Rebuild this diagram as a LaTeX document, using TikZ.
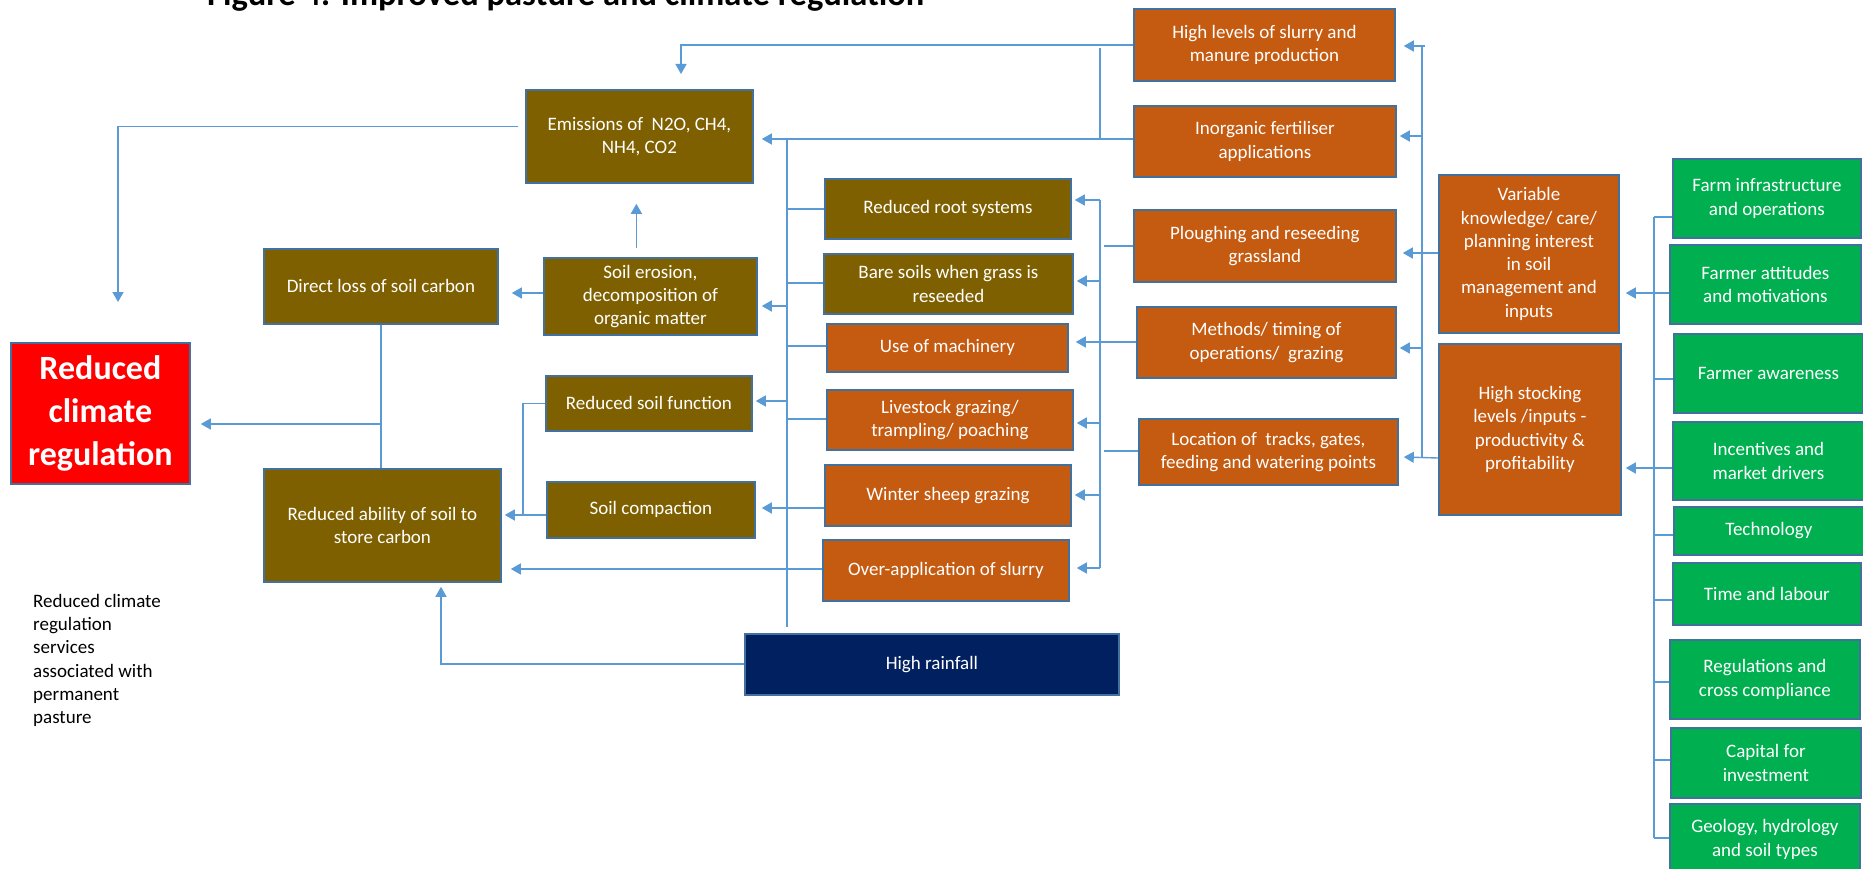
\documentclass[tikz,border=0pt]{standalone}
\usepackage{fontspec}
\setmainfont{Carlito}
\usetikzlibrary{arrows.meta,calc}
\definecolor{lnblue}{HTML}{5B9BD5}
\definecolor{bdblue}{HTML}{41719C}
\definecolor{cbrown}{HTML}{7F6000}
\definecolor{corange}{HTML}{C55A11}
\definecolor{cgreen}{HTML}{00B050}
\definecolor{cnavy}{HTML}{002060}
\definecolor{cred}{HTML}{FF0000}
\newcommand\mkbox[7]{%
  \node[#2, minimum width={(#5-#3)*1pt}, minimum height={(#6-#4)*1pt}, anchor=north west] (#1) at (#3,#4) {#7};}
\tikzset{
  bx/.style={draw=bdblue, line width=1.8pt, text=white, align=center, inner sep=2pt,
    font=\fontsize{19}{23.3}\selectfont},
  brownbox/.style={bx, fill=cbrown},
  orangebox/.style={bx, fill=corange},
  greenbox/.style={bx, fill=cgreen},
  navybox/.style={bx, fill=cnavy},
  redbox/.style={bx, fill=cred, font=\bfseries\fontsize{34}{43}\selectfont},
  ln/.style={draw=lnblue, line width=1.4pt},
  arr/.style={ln, -{Triangle[length=10pt,width=11pt]}},
}
\begin{document}
\begin{tikzpicture}[x=1pt,y=-1pt]
\fill[white] (0,0) rectangle (1863,869);
\useasboundingbox (0,0) rectangle (1863,869);

\node[anchor=base west, inner sep=0, font=\bfseries\fontsize{34.5}{40}\selectfont] (title) at (207,6) {Figure 4: Improved pasture and climate regulation};

% left column
\mkbox{emis}{brownbox}{525}{89}{752}{182}{Emissions of~~N2O, CH4,\\NH4, CO2}
\mkbox{direct}{brownbox}{263}{248}{497}{323}{Direct loss of soil carbon}
\mkbox{erosion}{brownbox}{543}{257}{756}{334}{Soil erosion,\\decomposition of\\organic matter}
\mkbox{red}{redbox}{10}{342}{189}{483}{Reduced\\climate\\regulation}
\mkbox{soilfn}{brownbox}{545}{375}{751}{430}{Reduced soil function}
\mkbox{ability}{brownbox}{263}{468}{500}{581}{Reduced ability of soil to\\store carbon}
\mkbox{compact}{brownbox}{546}{481}{754}{537}{Soil compaction}

% middle column
\mkbox{root}{brownbox}{824}{178}{1070}{238}{Reduced root systems}
\mkbox{bare}{brownbox}{823}{253}{1072}{313}{Bare soils when grass is\\reseeded}
\mkbox{mach}{orangebox}{826}{323}{1067}{371}{Use of machinery}
\mkbox{live}{orangebox}{826}{389}{1072}{449}{Livestock grazing/\\trampling/ poaching}
\mkbox{winter}{orangebox}{824}{464}{1070}{525}{Winter sheep grazing}
\mkbox{over}{orangebox}{822}{539}{1068}{600}{Over-application of slurry}
\mkbox{rain}{navybox}{744}{633}{1118}{694}{High rainfall}

% right orange column
\mkbox{hislurry}{orangebox}{1133}{8}{1394}{80}{High levels of slurry and\\manure production}
\mkbox{inorg}{orangebox}{1133}{105}{1395}{176}{Inorganic fertiliser\\applications}
\mkbox{plough}{orangebox}{1133}{209}{1395}{281}{Ploughing and reseeding\\grassland}
\mkbox{methods}{orangebox}{1136}{306}{1395}{377}{Methods/ timing of\\operations/~~grazing}
\mkbox{location}{orangebox}{1138}{418}{1397}{484}{Location of~~tracks, gates,\\feeding and watering points}
\mkbox{variable}{orangebox}{1438}{174}{1618}{332}{Variable\\knowledge/ care/\\planning interest\\in soil\\management and\\inputs}
\mkbox{stocking}{orangebox}{1438}{343}{1620}{514}{High stocking\\levels /inputs -\\productivity \&\\profitability}

% green column
\mkbox{g1}{greenbox}{1672}{158}{1860}{237}{Farm infrastructure\\and operations}
\mkbox{g2}{greenbox}{1669}{244}{1860}{323}{Farmer attitudes\\and motivations}
\mkbox{g3}{greenbox}{1673}{333}{1862}{412}{Farmer awareness}
\mkbox{g4}{greenbox}{1672}{421}{1863}{499}{Incentives and\\market drivers}
\mkbox{g5}{greenbox}{1673}{506}{1863}{554}{Technology}
\mkbox{g6}{greenbox}{1672}{562}{1860}{624}{Time and labour}
\mkbox{g7}{greenbox}{1669}{639}{1859}{718}{Regulations and\\cross compliance}
\mkbox{g8}{greenbox}{1670}{727}{1860}{797}{Capital for\\investment}
\mkbox{g9}{greenbox}{1669}{803}{1859}{874}{Geology, hydrology\\and soil types}

\node[anchor=north west, align=left, inner sep=0, font=\fontsize{19}{23.3}\selectfont] (note) at (33,594) {Reduced climate\\regulation\\services\\associated with\\permanent\\pasture};

% named free ends
\coordinate (eTop) at (681,74);
\coordinate (eLeft) at (118,302);
\coordinate (busT) at (787,139);
\coordinate (busB) at (787,627);
\coordinate (jT) at (1100,48);
\coordinate (jB) at (1100,139);
\coordinate (mT) at (1100,200);
\coordinate (mB) at (1100,568);
\coordinate (rT) at (1422,46);
\coordinate (rB) at (1422,458);
\coordinate (gT) at (1654,217);
\coordinate (gB) at (1654,838);

% left part connectors
\draw[arr] (hislurry.west) -| (eTop);
\draw[ln] (jT) -- (jB);
\draw[arr] (inorg.west |- 0,139) -- ($(emis.east |- 0,139)+(8,0)$);
\draw[arr] ($(emis.west)+(-7,-10)$) -| (eLeft);
\draw[arr] ($(emis.south |- erosion.north)+(-3,-9)$) -- ($(emis.south)+(-3,20)$);
\draw[arr] (erosion.west |- 0,293) -- ($(direct.east |- 0,293)+(13,0)$);
\draw[ln] (direct.south) -- (direct.south |- ability.north);
\draw[arr] (direct.south |- 0,424) -- ($(red.east |- 0,424)+(10,0)$);
\draw[ln] (soilfn.west) -| ($(ability.east |- 0,515)+(21,0)$);
\draw[arr] (compact.west |- 0,515) -- ($(ability.east |- 0,515)+(3,0)$);
\draw[ln] (busT) -- (busB);
\draw[arr] (busT |- 0,306) -- ($(erosion.east |- 0,306)+(4,0)$);
\draw[arr] (busT |- 0,401) -- ($(soilfn.east |- 0,401)+(3,0)$);
\draw[arr] (winter.west |- 0,508) -- ($(compact.east |- 0,508)+(6,0)$);
\draw[arr] (over.west |- 0,569) -- ($(ability.east |- 0,569)+(9,0)$);
\draw[ln] (root.west |- 0,209) -- (busT |- 0,209);
\draw[ln] (bare.west |- 0,283) -- (busT |- 0,283);
\draw[ln] (mach.west |- 0,346) -- (busT |- 0,346);
\draw[ln] (live.west |- 0,419) -- (busT |- 0,419);
\draw[arr] (rain.west |- 0,664) -| ($(ability.south -| 441,0)+(0,4)$);

% middle connectors
\draw[ln] (mT) -- (mB);
\draw[arr] (mT) -- ($(root.east |- mT)+(3,0)$);
\draw[arr] (mT |- 0,281) -- ($(bare.east |- 0,281)+(3,0)$);
\draw[arr] (methods.west |- 0,342) -- ($(mach.east |- 0,342)+(7,0)$);
\draw[arr] (mT |- 0,423) -- ($(live.east |- 0,423)+(3,0)$);
\draw[arr] (mT |- 0,495) -- ($(winter.east |- 0,495)+(3,0)$);
\draw[arr] (mB) -- ($(over.east |- mB)+(7,0)$);
\draw[ln] (plough.west |- 0,246) -- (1104,246);
\draw[ln] (location.west |- 0,451) -- (1104,451);

% right connectors
\draw[ln] (rT) -- (rB);
\draw[arr] ($(rT)+(3,0)$) -- ($(hislurry.east |- rT)+(8,0)$);
\draw[arr] (rT |- 0,136) -- ($(inorg.east |- 0,136)+(3,0)$);
\draw[arr] (variable.west |- 0,253) -- ($(plough.east |- 0,253)+(6,0)$);
\draw[arr] (rT |- 0,348) -- ($(methods.east |- 0,348)+(3,0)$);
\draw[arr] (stocking.west |- rB) -- ($(location.east |- 0,457)+(5,0)$);

% green connectors
\draw[ln] (gT) -- (gB);
\draw[ln] (gT) -- (g1.west |- gT);
\draw[arr] (g2.west |- 0,293) -- ($(variable.east |- 0,293)+(6,0)$);
\draw[ln] (gT |- 0,379) -- (g3.west |- 0,379);
\draw[arr] (g4.west |- 0,468) -- ($(stocking.east |- 0,468)+(4,0)$);
\draw[ln] (gT |- 0,535) -- (g5.west |- 0,535);
\draw[ln] (gT |- 0,600) -- (g6.west |- 0,600);
\draw[ln] (gT |- 0,682) -- (g7.west |- 0,682);
\draw[ln] (gT |- 0,760) -- (g8.west |- 0,760);
\draw[ln] (gB) -- (g9.west |- gB);
\end{tikzpicture}
\end{document}
